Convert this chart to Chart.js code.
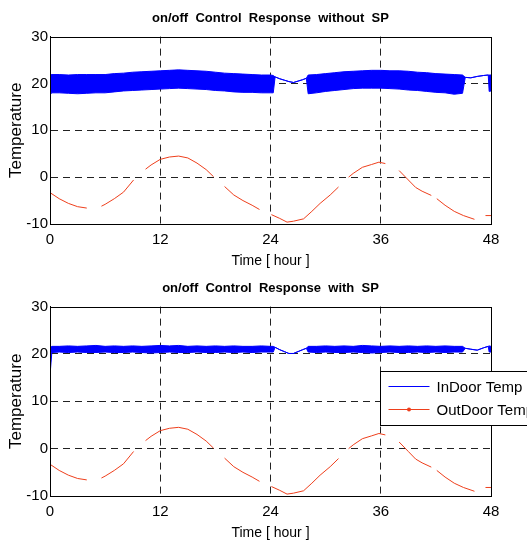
<!DOCTYPE html>
<html>
<head>
<meta charset="utf-8">
<script src="https://cdn.jsdelivr.net/npm/chart.js@4"></script>
<style>
    body { margin: 0; background: #fff; }
    #wrap { position: relative; width: 527px; height: 542px; overflow: hidden; }
    .pane { position: absolute; left: 0; width: 527px; }
</style>
</head>
<body>
<div id="wrap">
    <div class="pane" style="top:0;height:270px"><canvas id="topChart"></canvas></div>
    <div class="pane" style="top:270px;height:272px"><canvas id="bottomChart"></canvas></div>
</div>
<script>
// axis ticks
const hourTicks = [0, 12, 24, 36, 48];
const tempTicks = [-10, 0, 10, 20, 30];

// indoor temperature: upper / lower envelope of the on/off switching
const indoorHours = [0, 0.2, 1, 2, 3, 4, 5, 6, 7, 8, 9, 10, 11, 12, 13, 14, 15, 16, 17, 18, 19, 20, 21, 22, 23, 24,
    24.3, 24.5, 25, 25.5, 26, 26.5, 27, 27.5, 27.9, 28.1,
    29, 30, 31, 32, 33, 34, 35, 36, 37, 38, 39, 40, 41, 42, 43, 44,
    44.9, 45.2, 45.8, 46.5, 47.2, 47.7, 47.8, 48];

const indoorHighNoSP = [21.9, 21.9, 21.9, 21.8, 21.9, 21.9, 21.9, 21.9, 22.1, 22.2, 22.4, 22.5, 22.6, 22.7, 22.8, 22.9, 22.8, 22.7, 22.6, 22.4, 22.2, 22.1, 22.0, 21.9, 21.8, 21.8,
    21.7, 21.4, 21.0, 20.7, 20.4, 20.2, 20.5, 20.8, 21.1, 21.8,
    21.9, 22.1, 22.3, 22.5, 22.6, 22.7, 22.8, 22.8, 22.7, 22.7, 22.6, 22.4, 22.3, 22.1, 22.0, 21.9,
    21.8, 21.3, 21.2, 21.5, 21.7, 21.8, 21.8, 21.8];
const indoorLowNoSP = [17.6, 18.0, 18.0, 17.9, 17.8, 17.9, 18.0, 18.0, 18.2, 18.4, 18.5, 18.6, 18.7, 18.8, 18.9, 19.0, 18.9, 18.8, 18.7, 18.5, 18.4, 18.2, 18.1, 18.1, 18.0, 18.0,
    18.0, 21.4, 21.0, 20.7, 20.4, 20.2, 20.5, 20.8, 21.1, 17.8,
    18.0, 18.3, 18.5, 18.7, 18.9, 19.0, 19.0, 19.0, 18.9, 18.8, 18.6, 18.5, 18.3, 18.1, 18.0, 17.7,
    17.9, 21.3, 21.2, 21.5, 21.7, 21.8, 18.3, 18.4];

const indoorHighSP = [21.3, 21.6, 21.6, 21.7, 21.6, 21.7, 21.8, 21.6, 21.7, 21.6, 21.7, 21.6, 21.7, 21.8, 21.7, 21.8, 21.6, 21.7, 21.6, 21.7, 21.6, 21.7, 21.6, 21.6, 21.7, 21.6,
    21.6, 21.4, 20.9, 20.5, 20.1, 20.1, 20.5, 20.9, 21.2, 21.6,
    21.6, 21.7, 21.6, 21.7, 21.6, 21.8, 21.7, 21.6, 21.7, 21.6, 21.7, 21.6, 21.7, 21.6, 21.7, 21.6,
    21.6, 21.2, 21.0, 20.8, 21.3, 21.6, 21.7, 21.6];
const indoorLowSP = [15.5, 20.3, 20.4, 20.3, 20.4, 20.3, 20.3, 20.4, 20.3, 20.3, 20.4, 20.3, 20.2, 20.3, 20.4, 20.3, 20.3, 20.4, 20.3, 20.3, 20.4, 20.3, 20.4, 20.3, 20.4, 20.4,
    20.4, 21.4, 20.9, 20.5, 20.1, 20.1, 20.5, 20.9, 21.2, 20.4,
    20.3, 20.4, 20.3, 20.3, 20.4, 20.3, 20.2, 20.3, 20.4, 20.3, 20.3, 20.4, 20.3, 20.4, 20.3, 20.4,
    20.4, 21.2, 21.0, 20.8, 21.3, 21.6, 20.4, 20.4];

// outdoor temperature (null = gap in the trace)
const outdoorHours = [0, 1, 2, 3, 4, 4.8, 5.6, 6, 7, 8, 9.1, 9.7, 10.4, 11, 12, 13, 14, 15, 16, 17, 17.8, 18.4,
    19, 20, 21, 22, 22.8, 23.5, 24.1, 25, 25.8, 26.5, 27.6, 28.5, 29.4, 30.5, 31.4, 32, 32.5, 33, 34, 35, 35.8,
    36.5, 37.2, 38, 39, 39.8, 40.5, 41.5, 41.8, 42.1, 43, 44, 45, 46.2, 46.8, 47.4, 48];
const outdoorTemp = [-3.3, -4.6, -5.6, -6.3, -6.6, null, -6.2, -5.8, -4.6, -3.2, -0.6, null, 1.7, 2.6, 3.8, 4.3, 4.5, 4.1, 3.0, 1.6, 0.1, null,
    -2.0, -3.8, -5.0, -6.0, -6.9, null, -8.0, -8.8, -9.6, -9.4, -8.9, -7.3, -5.6, -3.8, -2.1, null, 0.0, 0.8, 2.1, 2.7, 3.2,
    2.9, null, 1.4, -0.6, -2.2, -3.0, -3.9, null, -4.6, -6.0, -7.3, -8.2, -9.0, null, -8.2, -8.2];

const BLUE = '#0000ff';
const RED = '#ee3f1c';
const FONT = '"Liberation Sans", Arial, sans-serif';

Chart.defaults.font.family = FONT;
Chart.defaults.color = '#000';

const pts = (xs, ys) => xs.map((x, i) => ({ x: x, y: ys[i] }));

// hide the grid line that would sit on the box edge
const gridColor = (ticks) => (c) => {
    const v = c.tick ? c.tick.value : null;
    return (v === ticks[0] || v === ticks[ticks.length - 1]) ? 'rgba(0,0,0,0)' : '#222';
};

// solid box around the plot area, like a matlab axes
const boxFrame = {
    id: 'boxFrame',
    afterDatasetsDraw(chart) {
        const { ctx, chartArea: a } = chart;
        ctx.save();
        ctx.strokeStyle = '#000';
        ctx.lineWidth = 1;
        ctx.strokeRect(Math.round(a.left) + 0.5, Math.round(a.top) + 0.5,
            Math.round(a.right - a.left), Math.round(a.bottom - a.top));
        ctx.restore();
    }
};

// legend box sitting inside the lower plot, running off the right edge
const legendBox = {
    id: 'legendBox',
    afterDraw(chart) {
        const { ctx, chartArea: a } = chart;
        const left = Math.round(a.right) - 110.5;
        const top = Math.round(a.top) + 64.5;
        ctx.save();
        ctx.fillStyle = '#fff';
        ctx.fillRect(left, top, 200, 54);
        ctx.strokeStyle = '#000';
        ctx.lineWidth = 1;
        ctx.strokeRect(left, top, 200, 54);

        const items = [
            { text: 'InDoor Temp', color: BLUE, dot: false },
            { text: 'OutDoor Temp', color: RED, dot: true }
        ];
        ctx.font = '15px ' + FONT;
        ctx.textBaseline = 'middle';
        items.forEach((it, i) => {
            const y = Math.round(top + 14 + i * 23) + 0.5;
            ctx.strokeStyle = it.color;
            ctx.beginPath();
            ctx.moveTo(left + 8, y);
            ctx.lineTo(left + 49, y);
            ctx.stroke();
            if (it.dot) {
                ctx.fillStyle = it.color;
                ctx.beginPath();
                ctx.arc(left + 28.5, y, 2, 0, Math.PI * 2);
                ctx.fill();
            }
            ctx.fillStyle = '#000';
            ctx.fillText(it.text, left + 56, y + 1);
        });
        ctx.restore();
    }
};

function makeChart(id, title, high, low, extra) {
    const ctx = document.getElementById(id);
    return new Chart(ctx, {
        type: 'line',
        data: {
            datasets: [
                {
                    label: 'InDoor Temp',
                    data: pts(indoorHours, high),
                    borderColor: BLUE,
                    backgroundColor: BLUE,
                    borderWidth: 1,
                    pointRadius: 0,
                    fill: '+1'
                },
                {
                    label: 'InDoor Temp low',
                    data: pts(indoorHours, low),
                    borderColor: BLUE,
                    borderWidth: 1,
                    pointRadius: 0,
                    fill: false
                },
                {
                    label: 'OutDoor Temp',
                    data: pts(outdoorHours, outdoorTemp),
                    borderColor: RED,
                    backgroundColor: RED,
                    borderWidth: 1,
                    pointRadius: 0,
                    spanGaps: false,
                    fill: false
                }
            ]
        },
        options: {
            responsive: true,
            maintainAspectRatio: false,
            animation: false,
            events: [],
            layout: { padding: { left: 14, right: 0, top: 0, bottom: 0 } },
            plugins: {
                legend: { display: false },
                tooltip: { enabled: false },
                title: {
                    display: true,
                    text: title,
                    color: '#000',
                    font: { size: 13, weight: 'bold' },
                    padding: { top: 11, bottom: 10 }
                }
            },
            scales: {
                x: {
                    type: 'linear',
                    min: hourTicks[0],
                    max: hourTicks[hourTicks.length - 1],
                    afterBuildTicks: (s) => { s.ticks = hourTicks.map(v => ({ value: v })); },
                    afterFit: (s) => { s.height = 46; },
                    ticks: { font: { size: 15 }, color: '#000', padding: 7, maxRotation: 0 },
                    grid: { color: gridColor(hourTicks), lineWidth: 1, drawTicks: false },
                    border: { display: true, color: '#000', dash: [7, 5] },
                    title: {
                        display: true,
                        text: 'Time [ hour ]',
                        color: '#000',
                        font: { size: 14 },
                        padding: { top: 0, bottom: 0 }
                    }
                },
                y: {
                    min: tempTicks[0],
                    max: tempTicks[tempTicks.length - 1],
                    afterBuildTicks: (s) => { s.ticks = tempTicks.map(v => ({ value: v })); },
                    afterFit: (s) => { s.width = 36; },
                    ticks: { font: { size: 15 }, color: '#000', padding: 2 },
                    grid: { color: gridColor(tempTicks), lineWidth: 1, drawTicks: false },
                    border: { display: true, color: '#000', dash: [7, 5] },
                    title: {
                        display: true,
                        text: 'Temperature',
                        color: '#000',
                        font: { size: 17 },
                        padding: { top: -8, bottom: 0 }
                    }
                },
                // empty right axis: keeps the plot box clear of the right edge
                yRight: {
                    type: 'linear',
                    position: 'right',
                    min: tempTicks[0],
                    max: tempTicks[tempTicks.length - 1],
                    afterFit: (s) => { s.width = 36; },
                    ticks: { display: false },
                    grid: { display: false, drawOnChartArea: false },
                    border: { display: false }
                }
            }
        },
        plugins: [boxFrame].concat(extra || [])
    });
}

makeChart('topChart', 'on/off  Control  Response  without  SP', indoorHighNoSP, indoorLowNoSP);
makeChart('bottomChart', 'on/off  Control  Response  with  SP', indoorHighSP, indoorLowSP, [legendBox]);
</script>
</body>
</html>
